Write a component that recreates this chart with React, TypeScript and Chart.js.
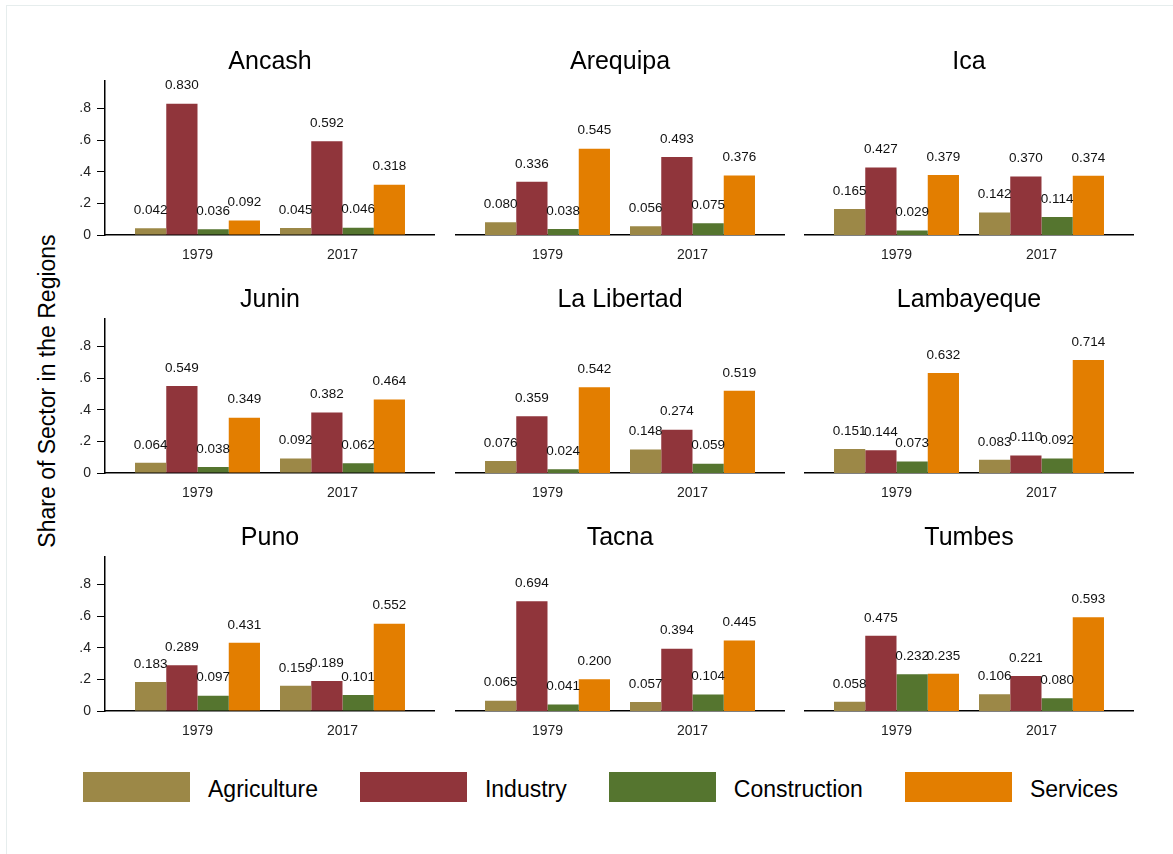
import { useEffect, useRef } from "react"
import { Chart, registerables } from "chart.js"

Chart.register(...registerables)

const regions = [
  "Ancash", "Arequipa", "Ica",
  "Junin", "La Libertad", "Lambayeque",
  "Puno", "Tacna", "Tumbes",
]
const years = ["1979", "2017"]

// one [1979, 2017] pair per region, same order as regions
const agriculture = [
  [0.042, 0.045], [0.080, 0.056], [0.165, 0.142],
  [0.064, 0.092], [0.076, 0.148], [0.151, 0.083],
  [0.183, 0.159], [0.065, 0.057], [0.058, 0.106],
]
const industry = [
  [0.830, 0.592], [0.336, 0.493], [0.427, 0.370],
  [0.549, 0.382], [0.359, 0.274], [0.144, 0.110],
  [0.289, 0.189], [0.694, 0.394], [0.475, 0.221],
]
const construction = [
  [0.036, 0.046], [0.038, 0.075], [0.029, 0.114],
  [0.038, 0.062], [0.024, 0.059], [0.073, 0.092],
  [0.097, 0.101], [0.041, 0.104], [0.232, 0.080],
]
const services = [
  [0.092, 0.318], [0.545, 0.376], [0.379, 0.374],
  [0.349, 0.464], [0.542, 0.519], [0.632, 0.714],
  [0.431, 0.552], [0.200, 0.445], [0.235, 0.593],
]

const yTicks = [0, 0.2, 0.4, 0.6, 0.8]
const yTickLabels = ["0", ".2", ".4", ".6", ".8"]

const sectors = [
  { name: "Agriculture", values: agriculture, color: "#9c8847" },
  { name: "Industry", values: industry, color: "#90353b" },
  { name: "Construction", values: construction, color: "#55752f" },
  { name: "Services", values: services, color: "#e37e00" },
]

const FONT = "'Liberation Sans', Arial, Helvetica, sans-serif"
const COL_LEFT = [105, 455, 804]
const PLOT_W = 330
const ROW_TOP = 40
const ROW_STEP = 238

const valueLabels = {
  id: "valueLabels",
  afterDatasetsDraw(chart: any) {
    const ctx = chart.ctx
    ctx.save()
    ctx.font = `13.5px ${FONT}`
    ctx.fillStyle = "#111"
    ctx.textAlign = "center"
    ctx.textBaseline = "middle"
    chart.data.datasets.forEach((ds: any, i: number) => {
      const meta = chart.getDatasetMeta(i)
      meta.data.forEach((bar: any, j: number) => {
        ctx.fillText(ds.data[j].y.toFixed(3), bar.x, bar.y - 18)
      })
    })
    ctx.restore()
  },
}

function Panel({ index }: { index: number }) {
  const chartRef = useRef<HTMLCanvasElement | null>(null)
  const chartInstance = useRef<Chart | null>(null)
  const col = index % 3
  const row = Math.floor(index / 3)
  const showY = col === 0
  const left = showY ? COL_LEFT[col] - 50 : COL_LEFT[col]
  const width = showY ? PLOT_W + 50 : PLOT_W

  useEffect(() => {
    if (!chartRef.current) return
    if (chartInstance.current) chartInstance.current.destroy()
    const ctx = chartRef.current.getContext("2d")
    if (!ctx) return

    chartInstance.current = new Chart(ctx, {
      type: "bar",
      data: {
        datasets: sectors.map((s) => ({
          label: s.name,
          data: years.map((_, k) => ({ x: k, y: s.values[index][k] })),
          backgroundColor: s.color,
          borderWidth: 0,
          categoryPercentage: 0.862,
          barPercentage: 1,
        })),
      },
      options: {
        animation: false,
        responsive: true,
        maintainAspectRatio: false,
        layout: { padding: 0 },
        plugins: {
          legend: { display: false },
          tooltip: { enabled: false },
          title: {
            display: true,
            fullSize: false,
            text: regions[index],
            color: "#000",
            font: { family: FONT, size: 25, weight: "normal" },
            padding: { top: 7, bottom: 3.7 },
          },
        },
        scales: {
          x: {
            type: "linear",
            min: -0.638,
            max: 1.638,
            offset: false,
            afterBuildTicks: (scale: any) => {
              scale.ticks = years.map((_, k) => ({ value: k }))
            },
            afterFit: (scale: any) => {
              scale.height = 30
            },
            grid: { display: false, drawTicks: false },
            border: { display: true, color: "#000", width: 1.5 },
            ticks: {
              padding: 12,
              color: "#222",
              font: { family: FONT, size: 14 },
              callback: (_v: any, i: number) => years[i],
            },
          },
          y: {
            display: showY,
            min: 0,
            max: 0.975,
            afterBuildTicks: (scale: any) => {
              scale.ticks = yTicks.map((v) => ({ value: v }))
            },
            afterFit: (scale: any) => {
              scale.width = showY ? 50 : 0
            },
            grid: {
              drawOnChartArea: false,
              drawTicks: true,
              tickLength: 8,
              color: "#000",
              lineWidth: 1,
            },
            border: { display: true, color: "#000", width: 1.5 },
            ticks: {
              padding: 6,
              color: "#222",
              font: { family: FONT, size: 14 },
              callback: (_v: any, i: number) => yTickLabels[i],
            },
          },
        },
      },
      plugins: [valueLabels],
    } as any)

    return () => {
      if (chartInstance.current) {
        chartInstance.current.destroy()
        chartInstance.current = null
      }
    }
  }, [index])

  return (
    <div
      style={{
        position: "absolute",
        left,
        top: ROW_TOP + row * ROW_STEP,
        width,
        height: 225,
      }}
    >
      <canvas ref={chartRef} />
    </div>
  )
}

export default function App() {
  return (
    <div
      style={{
        position: "absolute",
        left: 0,
        top: 0,
        width: 1173,
        height: 854,
        overflow: "hidden",
        background: "#fff",
        fontFamily: FONT,
      }}
    >
      <div
        style={{
          position: "absolute",
          left: 6,
          top: 5,
          width: 1200,
          height: 900,
          border: "1px solid #e6eded",
        }}
      />
      <div
        style={{
          position: "absolute",
          left: 47,
          top: 391,
          transform: "translate(-50%, -50%) rotate(-90deg)",
          whiteSpace: "nowrap",
          fontSize: 23,
          color: "#000",
        }}
      >
        Share of Sector in the Regions
      </div>
      {regions.map((_, i) => (
        <Panel key={i} index={i} />
      ))}
      <div
        style={{
          position: "absolute",
          left: 83,
          top: 772,
          height: 30,
          display: "flex",
          alignItems: "center",
        }}
      >
        {sectors.map((s) => (
          <div key={s.name} style={{ display: "flex", alignItems: "center", marginRight: 42 }}>
            <div style={{ width: 107, height: 30, background: s.color }} />
            <span style={{ marginLeft: 18, marginTop: 4, fontSize: 23, color: "#000" }}>{s.name}</span>
          </div>
        ))}
      </div>
    </div>
  )
}
